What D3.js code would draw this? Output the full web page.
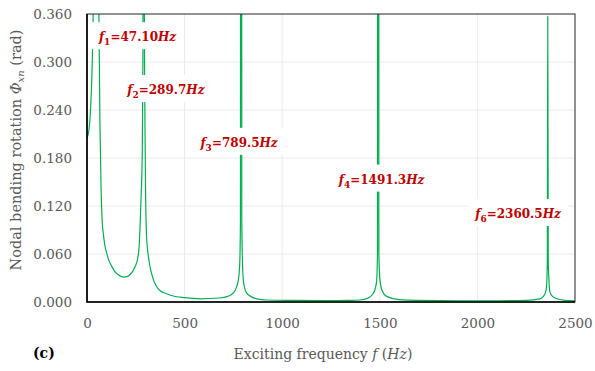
<!DOCTYPE html>
<html>
<head>
<meta charset="utf-8">
<script src="https://cdn.jsdelivr.net/npm/d3@7"></script>
<style>
  body { margin: 0; background: #fff; }
  svg { display: block; }
</style>
</head>
<body>
<div id="canvas"></div>
<script>
// Dimension and color constants.
const WIDTH = 595;
const HEIGHT = 371;
const MARGIN = { top: 14, right: 20, bottom: 69, left: 87 };

const LINE_COLOR = "#00B050";
const LABEL_COLOR = "#C00000";
const TEXT_COLOR = "#595959";
const GRID_COLOR = "#ebebeb";
const FONT = "'DejaVu Serif', serif";

// Exciting frequency (Hz) and nodal bending rotation (rad).
const freqs = [
    0, 10, 20, 27, 32, 38, 43, 47.1, 52, 57, 61, 66, 72, 78, 84, 92, 100, 112, 126, 140,
    160, 191, 220, 246, 260, 267, 276, 283, 286.5, 289.7, 293, 296, 300, 305, 313, 323,
    340, 357, 380, 400, 442, 500, 579, 681, 720, 748, 765, 775, 782, 786, 789.5, 793, 797,
    801, 812, 826, 870, 920, 1056, 1226, 1330, 1399, 1440, 1467, 1478, 1484, 1488, 1491.3,
    1495, 1501, 1512, 1535, 1600, 1700, 1911, 2100, 2253, 2320, 2338, 2350, 2355, 2358,
    2360.5, 2363, 2366, 2372, 2385, 2397, 2450, 2500
];
const phi = [
    0.205, 0.215, 0.25, 0.30, 0.37, 0.6, 1.2, 3.0, 1.0, 0.5, 0.36, 0.228, 0.144, 0.10,
    0.085, 0.07, 0.062, 0.052, 0.045, 0.039,
    0.034, 0.031, 0.034, 0.044, 0.055, 0.069, 0.124, 0.186, 0.3, 3.0, 0.4, 0.25, 0.14,
    0.082, 0.06, 0.044,
    0.028, 0.019, 0.013, 0.011, 0.0075, 0.0055, 0.004, 0.005, 0.007, 0.011, 0.018, 0.027,
    0.045, 0.1, 3.0, 0.1, 0.045,
    0.027, 0.014, 0.009, 0.004, 0.0025, 0.002, 0.0017, 0.002, 0.0025, 0.005, 0.011, 0.018,
    0.027, 0.06, 3.0,
    0.06, 0.027, 0.014, 0.007, 0.003, 0.002, 0.0014, 0.0015, 0.002, 0.004, 0.007, 0.013,
    0.022, 0.05,
    0.357, 0.05, 0.03, 0.012, 0.007, 0.005, 0.002, 0.0015
];

// Axis ticks.
const xTicks = [0, 500, 1000, 1500, 2000, 2500];
const yTicks = [0, 0.06, 0.12, 0.18, 0.24, 0.30, 0.36];

// Natural frequency annotations: mode number, value text, label centre (Hz, rad).
const modeNums = ["1", "2", "3", "4", "6"];
const modeTexts = ["47.10", "289.7", "789.5", "1491.3", "2360.5"];
const modeLabelFreq = [259, 404, 779, 1509, 2208];
const modeLabelPhi = [0.326, 0.26, 0.194, 0.148, 0.105];

const svg = d3.select("#canvas")
    .append("svg")
    .attr("width", WIDTH)
    .attr("height", HEIGHT);

const xScale = d3.scaleLinear()
    .domain([0, 2500])
    .range([MARGIN.left, WIDTH - MARGIN.right]);
const yScale = d3.scaleLinear()
    .domain([0, 0.36])
    .range([HEIGHT - MARGIN.bottom, MARGIN.top]);

// Gridlines.
svg.append("g")
    .selectAll("line")
    .data(xTicks.slice(1, -1))
    .join("line")
    .attr("x1", d => xScale(d))
    .attr("x2", d => xScale(d))
    .attr("y1", yScale(0))
    .attr("y2", yScale(0.36))
    .attr("stroke", GRID_COLOR)
    .attr("stroke-width", 1);

svg.append("g")
    .selectAll("line")
    .data(yTicks.slice(1, -1))
    .join("line")
    .attr("x1", xScale(0))
    .attr("x2", xScale(2500))
    .attr("y1", d => yScale(d))
    .attr("y2", d => yScale(d))
    .attr("stroke", GRID_COLOR)
    .attr("stroke-width", 1);

// Clip so that resonance peaks are cut off at the top of the plot.
svg.append("clipPath")
    .attr("id", "plotClip")
    .append("rect")
    .attr("x", xScale(0))
    .attr("y", yScale(0.36))
    .attr("width", xScale(2500) - xScale(0))
    .attr("height", yScale(0) - yScale(0.36));

const points = freqs.map((f, i) => ({ f: f, v: phi[i] }));

const line = d3.line()
    .x(d => xScale(d.f))
    .y(d => yScale(d.v))
    .curve(d3.curveMonotoneX);

svg.append("path")
    .datum(points)
    .attr("clip-path", "url(#plotClip)")
    .attr("d", line)
    .attr("fill", "none")
    .attr("stroke", LINE_COLOR)
    .attr("stroke-width", 1.2);

// Plot border.
svg.append("rect")
    .attr("x", xScale(0))
    .attr("y", yScale(0.36))
    .attr("width", xScale(2500) - xScale(0))
    .attr("height", yScale(0) - yScale(0.36))
    .attr("fill", "none")
    .attr("stroke", "#262626")
    .attr("stroke-width", 1);

svg.append("path")
    .attr("d", `M${xScale(0)},${yScale(0.36)}V${yScale(0)}H${xScale(2500)}`)
    .attr("fill", "none")
    .attr("stroke", "#000")
    .attr("stroke-width", 1.6);

// Axes.
const xAxis = d3.axisBottom(xScale)
    .tickValues(xTicks)
    .tickSize(0)
    .tickPadding(16)
    .tickFormat(d3.format("d"));
const yAxis = d3.axisLeft(yScale)
    .tickValues(yTicks)
    .tickSize(0)
    .tickPadding(15)
    .tickFormat(d3.format(".3f"));

const xAxisGroup = svg.append("g")
    .attr("transform", `translate(0, ${yScale(0)})`)
    .call(xAxis);
const yAxisGroup = svg.append("g")
    .attr("transform", `translate(${xScale(0)}, 0)`)
    .call(yAxis);

[xAxisGroup, yAxisGroup].forEach(g => {
    g.select(".domain").remove();
    g.selectAll("text")
        .attr("fill", TEXT_COLOR)
        .attr("font-family", FONT)
        .attr("font-size", 13.5);
});

// Axis titles.
const xTitle = svg.append("text")
    .attr("x", 323)
    .attr("y", 359)
    .attr("text-anchor", "middle")
    .attr("fill", TEXT_COLOR)
    .attr("font-family", FONT)
    .attr("font-size", 14);
xTitle.append("tspan").text("Exciting frequency ");
xTitle.append("tspan").attr("font-style", "italic").text("f");
xTitle.append("tspan").text(" (");
xTitle.append("tspan").attr("font-style", "italic").text("Hz");
xTitle.append("tspan").text(")");

const yTitle = svg.append("text")
    .attr("transform", "translate(21, 150) rotate(-90)")
    .attr("text-anchor", "middle")
    .attr("fill", TEXT_COLOR)
    .attr("font-family", FONT)
    .attr("font-size", 14.5);
yTitle.append("tspan").text("Nodal bending rotation  ");
yTitle.append("tspan").attr("font-style", "italic").text("Φ");
yTitle.append("tspan").attr("font-style", "italic").attr("font-size", 10).attr("dy", 3).text("xn");
yTitle.append("tspan").attr("dy", -3).text("  (rad)");

// Panel tag.
svg.append("text")
    .attr("x", 33)
    .attr("y", 358)
    .attr("fill", "#000")
    .attr("font-family", FONT)
    .attr("font-weight", "bold")
    .attr("font-size", 14)
    .text("(c)");

// Natural frequency labels with white boxes behind them.
modeNums.forEach((n, i) => {
    const g = svg.append("g");
    const box = g.append("rect").attr("fill", "#fff");
    const label = g.append("text")
        .attr("x", xScale(modeLabelFreq[i]))
        .attr("y", yScale(modeLabelPhi[i]))
        .attr("text-anchor", "middle")
        .attr("fill", LABEL_COLOR)
        .attr("font-family", FONT)
        .attr("font-weight", "bold")
        .attr("font-size", 12);
    label.append("tspan").attr("font-style", "italic").text("f");
    label.append("tspan").attr("font-size", 9).attr("dy", 4).text(n);
    label.append("tspan").attr("dy", -4).text("=" + modeTexts[i]);
    label.append("tspan").attr("font-style", "italic").text("Hz");

    const bb = label.node().getBBox();
    box.attr("x", bb.x - 6)
        .attr("y", yScale(modeLabelPhi[i]) - 19)
        .attr("width", bb.width + 12)
        .attr("height", 27);
});
</script>
</body>
</html>
